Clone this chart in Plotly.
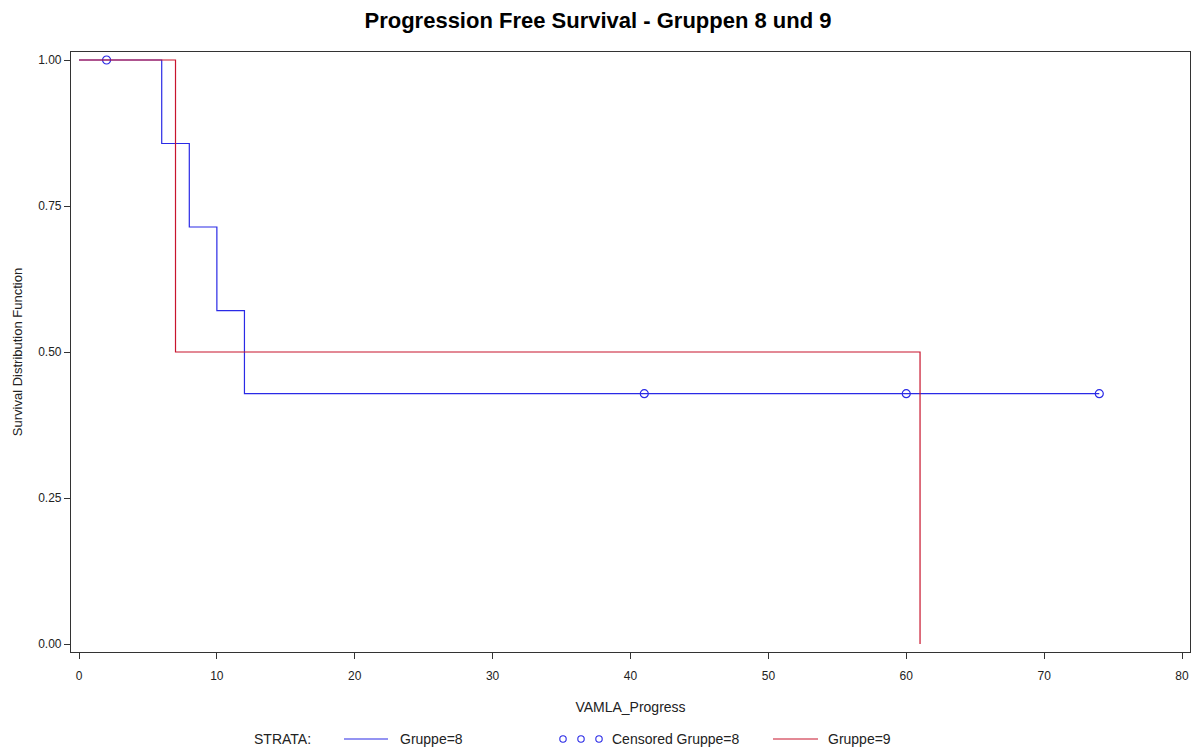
import plotly.graph_objects as go

# Kaplan-Meier step estimates, group 8
g8_time = [0, 6, 8, 10, 12, 74]
g8_surv = [1.0, 0.857, 0.714, 0.571, 0.4286, 0.4286]

# censored observations, group 8
g8_cens_time = [2, 41, 60, 74]
g8_cens_surv = [1.0, 0.4286, 0.4286, 0.4286]

# Kaplan-Meier step estimates, group 9
g9_time = [0, 7, 61]
g9_surv = [1.0, 0.5, 0.0]

x_ticks = [0, 10, 20, 30, 40, 50, 60, 70, 80]
y_ticks = [0.0, 0.25, 0.5, 0.75, 1.0]

BLUE = "#2a2ae6"
RED = "#c8142d"
FONT = "Liberation Sans, Arial, sans-serif"
TXT = "#222222"

W, H = 1196, 751
ML, MR, MT, MB = 71, 6, 52, 99
PW, PH = W - ML - MR, H - MT - MB


def px_x(px):
    """Pixel column -> paper x."""
    return (px - ML) / PW


def px_y(py):
    """Pixel row -> paper y."""
    return (H - MB - py) / PH


fig = go.Figure()
fig.add_trace(go.Scatter(
    x=g8_time, y=g8_surv, mode="lines", line_shape="hv",
    line=dict(color=BLUE, width=1.2), name="Gruppe=8", showlegend=False))
fig.add_trace(go.Scatter(
    x=g8_cens_time, y=g8_cens_surv, mode="markers",
    marker=dict(symbol="circle-open", size=8, color=BLUE, line=dict(width=1.2)),
    name="Censored Gruppe=8", showlegend=False))
fig.add_trace(go.Scatter(
    x=g9_time, y=g9_surv, mode="lines", line_shape="hv",
    line=dict(color=RED, width=1.2), name="Gruppe=9", showlegend=False))

axis_common = dict(
    showgrid=False, zeroline=False, showline=True, mirror=True,
    linecolor="#333333", linewidth=1.2,
    ticks="outside", ticklen=6, tickcolor="#333333", tickwidth=1.2,
    tickfont=dict(family=FONT, size=12, color=TXT),
)

# legend row along the bottom edge
LEG_Y = px_y(739)
shapes = [
    dict(type="line", xref="paper", yref="paper", x0=px_x(344), x1=px_x(388),
         y0=LEG_Y, y1=LEG_Y, line=dict(color=BLUE, width=1.2)),
    dict(type="line", xref="paper", yref="paper", x0=px_x(773), x1=px_x(818),
         y0=LEG_Y, y1=LEG_Y, line=dict(color=RED, width=1.2)),
]
for cx in (563, 581, 599):
    shapes.append(dict(type="circle", xref="paper", yref="paper",
                       xsizemode="pixel", ysizemode="pixel",
                       xanchor=px_x(cx), yanchor=LEG_Y,
                       x0=-3.2, x1=3.2, y0=-3.2, y1=3.2,
                       line=dict(color=BLUE, width=1.1)))

annotations = []
for px, label in ((252, "STRATA:"), (398, "Gruppe=8"),
                  (610, "Censored Gruppe=8"), (826, "Gruppe=9")):
    annotations.append(dict(x=px_x(px), y=LEG_Y, xref="paper", yref="paper",
                            text=label, showarrow=False, xanchor="left",
                            yanchor="middle",
                            font=dict(family=FONT, size=14, color=TXT)))

fig.update_layout(
    width=W, height=H,
    paper_bgcolor="white", plot_bgcolor="white",
    margin=dict(l=ML, r=MR, t=MT, b=MB, autoexpand=False),
    title=dict(text="<b>Progression Free Survival - Gruppen 8 und 9</b>",
               x=0.5, xanchor="center", y=0.973, yanchor="middle",
               font=dict(family=FONT, size=22, color="black")),
    xaxis=dict(range=[-0.58, 80.58], tickvals=x_ticks, ticklabelstandoff=6,
               title=dict(text="VAMLA_Progress", standoff=20,
                          font=dict(family=FONT, size=14, color=TXT)),
               **axis_common),
    yaxis=dict(range=[-0.0137, 1.0137], tickvals=y_ticks, tickformat=".2f",
               title=dict(text="Survival Distribution Function", standoff=12,
                          font=dict(family=FONT, size=13, color=TXT)),
               **axis_common),
    showlegend=False,
    shapes=shapes,
    annotations=annotations,
)

fig.write_html("out.html")
